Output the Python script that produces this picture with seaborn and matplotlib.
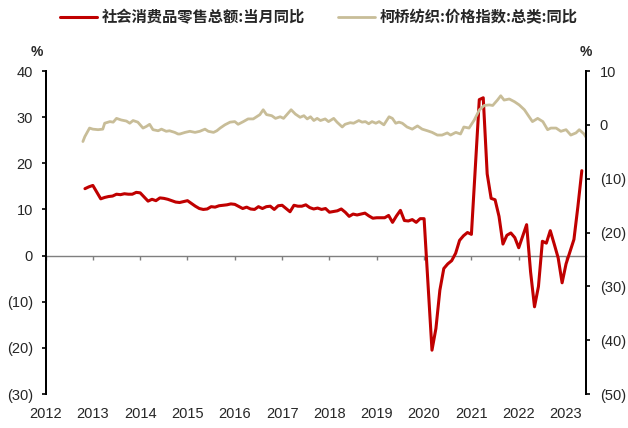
import pandas as pd
import matplotlib.pyplot as plt
import matplotlib.ticker as mticker
import seaborn as sns

# Retail sales YoY (%), monthly; Jan merged into Feb so Jan is absent
retail_month = (['2012-10', '2012-11', '2012-12'] +
                [f'{y}-{m:02d}' for y in range(2013, 2023) for m in range(2, 13)] +
                ['2023-02', '2023-03', '2023-04'])
retail_yoy = [14.5, 14.9, 15.2,
              12.3, 12.6, 12.8, 12.9, 13.3, 13.2, 13.4, 13.3, 13.3, 13.7, 13.6,
              11.8, 12.2, 11.9, 12.5, 12.4, 12.2, 11.9, 11.6, 11.5, 11.7, 11.9,
              10.7, 10.2, 10.0, 10.1, 10.6, 10.5, 10.8, 10.9, 11.0, 11.2, 11.1,
              10.2, 10.5, 10.1, 10.0, 10.6, 10.2, 10.6, 10.7, 10.0, 10.8, 10.9,
              9.5, 10.9, 10.7, 10.7, 11.0, 10.4, 10.1, 10.3, 10.0, 10.2, 9.4,
              9.7, 10.1, 9.4, 8.5, 9.0, 8.8, 9.0, 9.2, 8.6, 8.1, 8.2,
              8.2, 8.7, 7.2, 8.6, 9.8, 7.6, 7.5, 7.8, 7.2, 8.0, 8.0,
              -20.5, -15.8, -7.5, -2.8, -1.8, -1.1, 0.5, 3.3, 4.3, 5.0, 4.6,
              33.8, 34.2, 17.7, 12.4, 12.1, 8.5, 2.5, 4.4, 4.9, 3.9, 1.7,
              6.7, -3.5, -11.1, -6.7, 3.1, 2.7, 5.4, 2.5, -0.5, -5.9, -1.8,
              3.5, 10.6, 18.4]

# Keqiao textile price index YoY (%) (time in decimal years)
keqiao_t = [2012.79, 2012.83, 2012.93, 2013.00, 2013.11, 2013.21, 2013.25, 2013.36, 2013.43, 2013.50,
            2013.60, 2013.71, 2013.78, 2013.85, 2013.95, 2014.06, 2014.13, 2014.20, 2014.27, 2014.38,
            2014.45, 2014.55, 2014.62, 2014.73, 2014.80, 2014.84, 2014.95, 2015.05, 2015.16, 2015.26,
            2015.37, 2015.44, 2015.55, 2015.62, 2015.69, 2015.79, 2015.90, 2016.00, 2016.07, 2016.18,
            2016.28, 2016.39, 2016.46, 2016.53, 2016.60, 2016.67, 2016.78, 2016.86, 2016.96, 2017.03,
            2017.10, 2017.19, 2017.28, 2017.38, 2017.46, 2017.53, 2017.60, 2017.67, 2017.74, 2017.81,
            2017.91, 2017.98, 2018.09, 2018.16, 2018.27, 2018.33, 2018.44, 2018.51, 2018.62, 2018.69,
            2018.76, 2018.83, 2018.90, 2018.98, 2019.05, 2019.15, 2019.26, 2019.33, 2019.40, 2019.47,
            2019.54, 2019.64, 2019.75, 2019.86, 2019.96, 2020.07, 2020.17, 2020.28, 2020.38, 2020.49,
            2020.56, 2020.67, 2020.77, 2020.84, 2020.95, 2021.06, 2021.17, 2021.27, 2021.38, 2021.45,
            2021.55, 2021.62, 2021.69, 2021.80, 2021.91, 2022.01, 2022.12, 2022.22, 2022.29, 2022.40,
            2022.51, 2022.61, 2022.68, 2022.79, 2022.89, 2023.00, 2023.10, 2023.21, 2023.28, 2023.38,
            2023.43]
keqiao_yoy = [-3.1, -2.2, -0.6, -0.8, -0.9, -0.8, 0.3, 0.6, 0.5, 1.2,
              0.9, 0.7, 0.3, 0.8, 0.5, -0.6, -0.3, 0.1, -0.9, -1.1,
              -0.8, -1.2, -1.1, -1.4, -1.7, -1.7, -1.4, -1.2, -1.4, -1.2,
              -0.8, -1.2, -1.4, -1.1, -0.6, 0.0, 0.5, 0.6, 0.1, 0.6,
              1.1, 1.1, 1.5, 1.9, 2.8, 1.9, 1.7, 1.2, 1.5, 1.2,
              1.9, 2.8, 2.0, 1.4, 1.7, 1.1, 1.5, 0.8, 1.2, 0.8,
              1.1, 0.6, 1.2, 0.5, -0.4, 0.1, 0.4, 0.3, 0.8, 0.5,
              0.6, 0.2, 0.6, 0.3, 0.6, 0.0, 1.5, 1.2, 0.3, 0.5,
              0.3, -0.4, -0.8, -0.2, -0.8, -1.1, -1.4, -1.9, -1.9, -1.5,
              -1.9, -1.4, -1.7, -0.4, -0.6, 0.9, 2.8, 3.6, 3.7, 3.6,
              4.6, 5.4, 4.6, 4.8, 4.3, 3.7, 2.8, 1.5, 0.6, 1.2,
              0.6, -0.9, -0.6, -0.6, -1.2, -0.9, -1.9, -1.5, -0.9, -1.7,
              -2.4]

years = list(range(2012, 2024))

retail = pd.DataFrame({'month': pd.to_datetime(retail_month), 'yoy': retail_yoy})
retail['t'] = retail['month'].dt.year + retail['month'].dt.month / 12
keqiao = pd.DataFrame({'t': keqiao_t, 'yoy': keqiao_yoy})

sns.set_style('white')
plt.rcParams['font.family'] = ['Liberation Sans', 'Noto Sans CJK SC']
plt.rcParams['axes.unicode_minus'] = False

red = '#C00000'
tan = '#C8BD98'

fig = plt.figure(figsize=(6.28, 4.28), dpi=100)
ax = fig.add_axes([0.0725, 0.0794, 0.8605, 0.7547])
ax2 = ax.twinx()

sns.lineplot(data=retail, x='t', y='yoy', ax=ax, color=red, lw=2.2, zorder=3,
             label='社会消费品零售总额:当月同比', legend=False)
sns.lineplot(data=keqiao, x='t', y='yoy', ax=ax2, color=tan, lw=2.0,
             label='柯桥纺织:价格指数:总类:同比', legend=False)


def paren(v, pos):
    v = int(round(v))
    return f'({abs(v)})' if v < 0 else f'{v}'


ax.set_xlim(2012, 2023.42)
ax.set_ylim(-30, 40)
ax.set_yticks(range(-30, 41, 10))
ax.yaxis.set_major_formatter(mticker.FuncFormatter(paren))
ax2.set_ylim(-50, 10)
ax2.set_yticks(range(-50, 11, 10))
ax2.yaxis.set_major_formatter(mticker.FuncFormatter(paren))
ax.set_xlabel('')
ax.set_ylabel('')
ax2.set_ylabel('')

for a in (ax, ax2):
    a.spines['top'].set_visible(False)
    a.spines['left'].set_linewidth(1.4)
    a.spines['right'].set_linewidth(1.4)
    a.spines['left'].set_color('black')
    a.spines['right'].set_color('black')
ax2.spines['bottom'].set_visible(False)

# zero line acts as the x axis
ax.spines['bottom'].set_position(('data', 0))
ax.spines['bottom'].set_color('#7f7f7f')
ax.spines['bottom'].set_linewidth(1.0)
ax.set_xticks(years)
ax.tick_params(axis='x', direction='out', length=3, width=1, color='#7f7f7f',
               labelbottom=False, bottom=True)
ax.tick_params(axis='y', direction='out', length=3, width=1.2, color='black',
               left=True, labelsize=10.5, pad=6)
ax2.tick_params(axis='y', direction='out', length=3, width=1.2, color='black',
                right=True, labelsize=10.5, pad=7)

sec = ax.secondary_xaxis(0)
sec.set_xticks(years)
sec.tick_params(length=0, pad=9, labelsize=10.5)
sec.spines['bottom'].set_visible(False)

fig.text(0.058, 0.878, '%', fontsize=10, fontweight='bold', ha='center', va='center')
fig.text(0.933, 0.878, '%', fontsize=10, fontweight='bold', ha='center', va='center')

h1, l1 = ax.get_legend_handles_labels()
h2, l2 = ax2.get_legend_handles_labels()
fig.legend(h1 + h2, l1 + l2, loc='center', bbox_to_anchor=(0.508, 0.96), ncol=2,
           frameon=False, handlelength=2.4, columnspacing=2.2, handletextpad=0.3,
           prop={'family': ['Noto Sans CJK SC'], 'weight': 'bold', 'size': 11})

fig.savefig('out.png', dpi=100)
